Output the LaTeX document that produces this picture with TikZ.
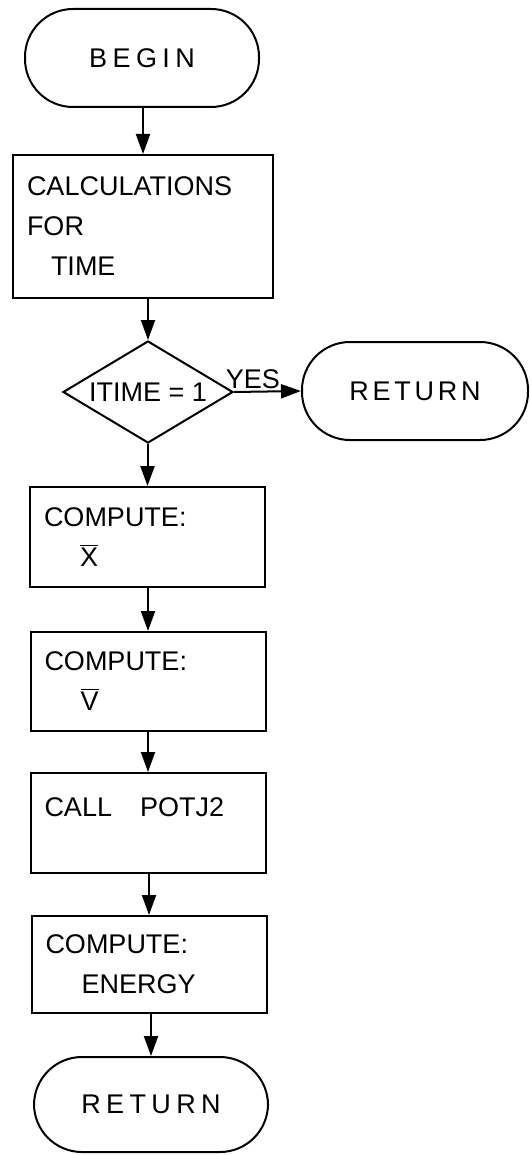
\documentclass[tikz,border=0pt]{standalone}
\usepackage{fontspec}
\setmainfont{Liberation Sans}
\usepackage{tikz}
\usetikzlibrary{shapes.geometric,arrows.meta}
\newcommand{\flowfont}{\fontsize{13.5}{20}\selectfont}
\tikzstyle{termbox} = [draw=black, line width=1pt, rectangle, rounded corners=24pt, minimum width=117pt, minimum height=49pt, font={\flowfont\addfontfeature{LetterSpace=20}}]
\tikzstyle{procbox} = [draw=black, line width=1pt, rectangle, align=left, inner xsep=7pt, text width=103.5pt, minimum height=50pt]
\tikzstyle{testbox} = [draw=black, line width=1pt, diamond, aspect=1.67, inner sep=0pt, minimum width=85pt, minimum height=51pt]
\tikzstyle{flowarrow} = [line width=1pt, -{Triangle[length=10pt,width=7pt]}]

\begin{document}
\begin{tikzpicture}[x=0.5pt, y=-0.5pt, font=\flowfont]
\useasboundingbox (0,0) rectangle (530,1155);
\node [termbox] (begin) at (142,58) {BEGIN};
\node [procbox, text width=116pt, minimum height=71.5pt] (calc) at (143,226.5) {CALCULATIONS\\FOR\\\hspace*{12pt}TIME};
\node [testbox] (dec) at (148,392) {ITIME = 1};
\node [termbox, minimum width=113pt, font={\flowfont\addfontfeature{LetterSpace=14}}] (ret1) at (415,391) {RETURN};
\node [procbox] (compx) at (147.5,537) {COMPUTE:\\\hspace*{18pt}$\overline{\mbox{X}}$};
\node [procbox, minimum height=49.5pt] (compv) at (148,681.5) {COMPUTE:\\\hspace*{18pt}$\overline{\mbox{V}}$};
\node [procbox, text depth=16pt] (call) at (148,823) {CALL\hspace{14pt}POTJ2};
\node [procbox, minimum height=48.5pt] (energy) at (149,964.5) {COMPUTE:\\\hspace*{18pt}ENERGY};
\node [termbox, minimum height=47.5pt] (ret2) at (151,1104.5) {RETURN};
% flow lines
\foreach \a/\b in {begin/calc, calc/dec, dec/compx, compx/compv, compv/call, call/energy, energy/ret2}
    \draw [flowarrow] (\a.south -| \b.north) -- (\b.north);
\draw [flowarrow] (dec.east) -- node[above, pos=0.28, inner sep=1pt] (yes) {YES} (ret1.west);
\end{tikzpicture}
\end{document}
